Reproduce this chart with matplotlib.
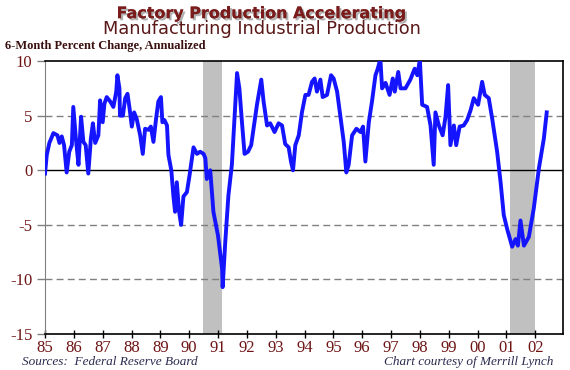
import matplotlib
matplotlib.use("Agg")
import matplotlib.pyplot as plt
import matplotlib.patheffects as pe

# 6-month percent change, annualized
years = [
    1985.00, 1985.06, 1985.15, 1985.29, 1985.43, 1985.50, 1985.58, 1985.66, 1985.75, 1985.84,
    1985.93, 1985.98, 1986.08, 1986.16, 1986.25, 1986.33, 1986.41, 1986.50, 1986.59, 1986.66,
    1986.74, 1986.85, 1986.91, 1987.00, 1987.06, 1987.14, 1987.26, 1987.37, 1987.47, 1987.51,
    1987.58, 1987.60, 1987.70, 1987.78, 1987.86, 1987.93, 1988.01, 1988.09, 1988.18, 1988.30,
    1988.39, 1988.47, 1988.59, 1988.67, 1988.76, 1988.85, 1988.93, 1989.02, 1989.07, 1989.14,
    1989.23, 1989.28, 1989.38, 1989.45, 1989.51, 1989.57, 1989.65, 1989.72, 1989.80, 1989.92,
    1990.01, 1990.15, 1990.27, 1990.38, 1990.50, 1990.56, 1990.61, 1990.73, 1990.84, 1991.00,
    1991.14, 1991.16, 1991.25, 1991.36, 1991.48, 1991.57, 1991.66, 1991.74, 1991.83, 1991.92,
    1992.04, 1992.15, 1992.23, 1992.35, 1992.50, 1992.58, 1992.70, 1992.81, 1992.96, 1993.10,
    1993.22, 1993.33, 1993.45, 1993.53, 1993.60, 1993.68, 1993.80, 1993.91, 1994.03, 1994.14,
    1994.26, 1994.35, 1994.43, 1994.55, 1994.63, 1994.78, 1994.92, 1995.01, 1995.13, 1995.24,
    1995.36, 1995.45, 1995.53, 1995.65, 1995.80, 1995.94, 1996.03, 1996.11, 1996.23, 1996.34,
    1996.46, 1996.54, 1996.63, 1996.69, 1996.81, 1996.95, 1997.06, 1997.13, 1997.25, 1997.33,
    1997.50, 1997.67, 1997.82, 1997.91, 1998.00, 1998.08, 1998.25, 1998.37, 1998.48, 1998.54,
    1998.66, 1998.79, 1998.89, 1998.98, 1999.06, 1999.18, 1999.26, 1999.38, 1999.52, 1999.64,
    1999.76, 1999.87, 2000.02, 2000.16, 2000.25, 2000.39, 2000.51, 2000.68, 2000.80, 2000.91,
    2001.03, 2001.20, 2001.32, 2001.40, 2001.49, 2001.61, 2001.78, 2001.95, 2002.13, 2002.30,
    2002.40,
]
pct_change = [
    -0.3, 1.4, 2.5, 3.4, 3.2, 2.5, 3.1, 2.3, -0.2, 1.7,
    2.3, 5.8, 2.6, 0.5, 4.9, 2.6, 2.3, -0.3, 2.9, 4.3,
    2.5, 3.2, 6.4, 4.4, 6.1, 6.7, 6.3, 5.8, 7.2, 8.7,
    7.5, 5.0, 5.0, 6.6, 7.0, 5.7, 4.0, 5.3, 4.7, 3.2,
    1.5, 3.8, 3.7, 4.0, 2.6, 4.7, 6.3, 6.7, 4.4, 4.6,
    4.1, 1.4, 0.0, -2.3, -3.8, -1.1, -3.8, -5.0, -2.4, -2.0,
    -0.5, 2.1, 1.5, 1.7, 1.5, 1.1, -0.8, 0.0, -3.8, -6.0,
    -9.0, -10.7, -6.6, -2.3, 0.5, 4.7, 8.9, 7.5, 4.4, 1.5,
    1.7, 2.3, 3.8, 6.0, 8.3, 6.3, 4.1, 4.3, 3.5, 4.3,
    4.1, 2.4, 2.1, 0.8, 0.0, 2.3, 3.2, 5.3, 6.9, 6.9,
    8.1, 8.4, 7.2, 8.3, 6.7, 6.9, 8.7, 8.4, 7.2, 5.0,
    2.6, -0.2, 0.5, 3.2, 3.8, 3.5, 4.0, 0.8, 4.4, 6.3,
    8.7, 9.3, 10.2, 7.5, 8.0, 6.9, 8.4, 7.2, 9.0, 7.5,
    7.5, 8.3, 9.3, 8.7, 10.1, 6.0, 5.8, 4.1, 0.5, 5.3,
    4.1, 3.2, 4.9, 7.8, 2.3, 4.1, 2.3, 4.0, 4.1, 4.6,
    5.5, 6.6, 6.0, 8.1, 6.9, 6.6, 4.7, 1.7, -1.1, -4.1,
    -5.4, -7.0, -6.3, -6.9, -4.6, -6.9, -6.1, -3.5, 0.2, 2.9,
    5.3,
]

recessions = [(1990.49, 1991.15), (2001.11, 2002.01)]
tick_years = list(range(1985, 2003))
tick_labels = ["%02d" % (y % 100) for y in tick_years]
y_ticks = [10, 5, 0, -5, -10, -15]

maroon = "#6e1414"
serif = ["Liberation Serif", "DejaVu Serif"]

fig = plt.figure(figsize=(5.7, 3.7), dpi=100)
ax = fig.add_axes([0.079, 0.097, 0.909, 0.738])

for start, end in recessions:
    ax.axvspan(start, end, color="#c0c0c0", lw=0, zorder=1)

for level in (5, -5, -10):
    ax.axhline(level, color="#808080", lw=1.0, ls=(0, (5, 3)), zorder=2)
ax.axhline(0, color="black", lw=1.0, zorder=2)

ax.plot(years, pct_change, color="#1414ff", lw=2.8, zorder=3, solid_joinstyle="round")

ax.set_xlim(1985, 2002.97)
ax.set_ylim(-15, 10)
ax.set_xticks(tick_years)
ax.set_xticklabels(tick_labels)
ax.set_yticks(y_ticks)
ax.set_yticklabels([str(v) for v in y_ticks])

for lab in ax.get_xticklabels() + ax.get_yticklabels():
    lab.set_family(serif)
    lab.set_fontsize(12)
    lab.set_color(maroon)

ax.tick_params(axis="x", direction="inout", length=6, width=1, color="black", pad=1)
ax.tick_params(axis="y", direction="out", length=6, width=1, color="#808080", pad=3)

ax.spines["left"].set_color("#808080")
for side in ("top", "right", "bottom"):
    ax.spines[side].set_color("black")
    ax.spines[side].set_linewidth(1.2)

fig.text(0.46, 0.963, "Factory Production Accelerating", ha="center", va="center",
         fontsize=11.5, fontweight="bold", color="#7a1c1c",
         path_effects=[pe.withSimplePatchShadow(offset=(1.5, -1.5), shadow_rgbFace="#909090", alpha=0.7),
                       pe.Normal()])
fig.text(0.46, 0.922, "Manufacturing Industrial Production", ha="center", va="center",
         fontsize=12.8, color="#5a1818")
fig.text(0.009, 0.877, "6-Month Percent Change, Annualized", ha="left", va="center",
         fontsize=9, fontweight="bold", color="#3a1010", family=serif)
fig.text(0.038, 0.022, "Sources:  Federal Reserve Board", ha="left", va="center",
         fontsize=9.5, style="italic", color="#2a2a50", family=serif)
fig.text(0.97, 0.022, "Chart courtesy of Merrill Lynch", ha="right", va="center",
         fontsize=9.5, style="italic", color="#2a2a50", family=serif)

fig.savefig("out.png", dpi=100)
